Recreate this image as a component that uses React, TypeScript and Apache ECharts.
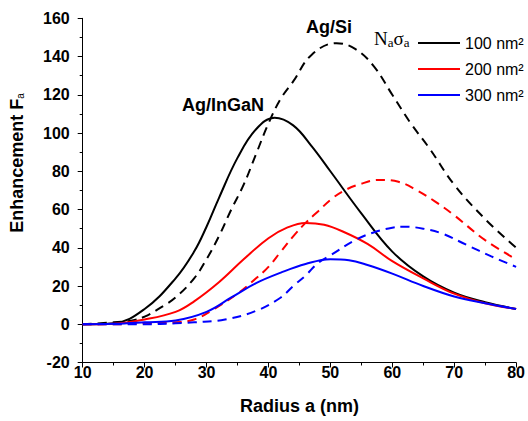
import React, { useEffect, useRef } from "react";
import * as echarts from "echarts";

// Radius a (nm) vs enhancement F_a
const ingan100: [number, number][] = [
  [10, 0], [15, 0.5], [20, 8], [25, 24], [28, 38], [30, 51], [32, 66], [35, 87], [38, 102], [41, 108],
  [44, 104], [47, 93], [50, 80], [55, 58], [60, 38], [65, 25], [70, 16.5], [75, 11.5], [80, 8],
];
const si100: [number, number][] = [
  [10, 0], [15, 1], [18, 2], [20, 4], [23, 9.5], [25, 14], [28, 24], [30, 34], [32, 46], [34, 60],
  [36, 73], [38, 89], [40, 105], [42, 118], [44, 127], [47, 141], [51, 147], [54, 144], [57, 135],
  [60, 120], [63, 105], [66, 92], [70, 73], [75, 55], [80, 40],
];
const ingan200: [number, number][] = [
  [10, 0], [15, 0.3], [20, 2.5], [25, 6.5], [28, 12], [32, 22], [36, 34], [40, 45], [43, 50.5],
  [46, 53], [49, 52], [52, 48.5], [56, 42], [60, 33], [65, 24], [70, 16], [75, 11], [80, 8],
];
const si200: [number, number][] = [
  [10, 0], [15, 0], [20, 0.5], [25, 1], [28, 2.5], [31, 7.5], [35, 16], [38, 24], [40, 30], [42, 38],
  [44, 46], [46, 53], [48, 59], [50, 65], [52, 69.5], [55, 73.5], [58, 75.5], [61, 74.5], [64, 70],
  [67, 64], [70, 57], [75, 44], [80, 34],
];
const ingan300: [number, number][] = [
  [10, 0], [15, 0.2], [20, 1], [25, 2], [30, 6.5], [34, 14], [38, 21.5], [42, 27], [46, 31.5],
  [50, 34], [53, 33.5], [56, 31], [60, 26.5], [65, 20], [70, 14.5], [75, 11], [80, 8],
];
const si300: [number, number][] = [
  [10, 0], [20, 0], [25, 0.5], [28, 1], [33, 2.5], [38, 7], [42, 14], [44, 20], [46, 25.5], [48, 32],
  [50, 36], [54, 44], [57, 48], [60, 50.5], [62, 51], [65, 50], [68, 47.5], [72, 41.5], [76, 35.5],
  [80, 30],
];
const legendNames = ["100 nm²", "200 nm²", "300 nm²"];
const colors = ["#000000", "#ff0000", "#0000ff"];

export default function App() {
  const ref = useRef<HTMLDivElement>(null);
  useEffect(() => {
    if (!ref.current) return;
    const chart = echarts.init(ref.current, undefined, { renderer: "svg" });
    const font = "'Liberation Sans', Arial, sans-serif";
    const solid = (name: string, data: [number, number][], color: string) => ({
      name, type: "line", data, smooth: 0.4, symbol: "none",
      lineStyle: { color, width: 2, type: "solid" }, itemStyle: { color },
    });
    const dashed = (name: string, data: [number, number][], color: string) => ({
      name, type: "line", data, smooth: 0.4, symbol: "none",
      lineStyle: { color, width: 2, type: [9, 6] }, itemStyle: { color },
    });
    chart.setOption({
      animation: false,
      backgroundColor: "#ffffff",
      grid: { left: 82.7, right: 10.7, top: 18.3, bottom: 58.5 },
      legend: {
        data: legendNames, orient: "vertical", left: 418, top: 35, padding: 0,
        icon: "rect", itemWidth: 42, itemHeight: 2, itemGap: 10,
        textStyle: { fontSize: 16, fontFamily: font, color: "#000", lineHeight: 16, width: 62, overflow: "none" },
      },
      xAxis: {
        type: "value", min: 10, max: 80, interval: 10,
        name: "Radius a (nm)", nameLocation: "middle", nameGap: 34,
        nameTextStyle: { fontSize: 18, fontWeight: "bold", fontFamily: font, color: "#000" },
        axisLine: { onZero: false, lineStyle: { color: "#000", width: 1 } },
        axisTick: { length: 5, lineStyle: { color: "#000" } },
        minorTick: { show: true, splitNumber: 2, length: 3, lineStyle: { color: "#000" } },
        axisLabel: { fontSize: 16, fontWeight: "bold", fontFamily: font, color: "#000", margin: 2 },
        splitLine: { show: false },
      },
      yAxis: {
        type: "value", min: -20, max: 160, interval: 20,
        axisLine: { show: true, onZero: false, lineStyle: { color: "#000", width: 1 } },
        axisTick: { show: true, length: 5, lineStyle: { color: "#000" } },
        minorTick: { show: true, splitNumber: 2, length: 3, lineStyle: { color: "#000" } },
        axisLabel: { fontSize: 16, fontWeight: "bold", fontFamily: font, color: "#000", margin: 13 },
        splitLine: { show: false },
      },
      graphic: [
        {
          type: "text", x: 16.5, y: 163, rotation: Math.PI / 2,
          style: {
            text: "Enhancement F{s|a}", fill: "#000", align: "center", verticalAlign: "middle",
            font: `bold 18px ${font}`,
            rich: { s: { fontSize: 10, fontWeight: "normal", fontFamily: font, verticalAlign: "bottom", padding: [8, 0, 0, 0] } },
          },
        },
        {
          type: "text", x: 329, y: 27,
          style: { text: "Ag/Si", fill: "#000", align: "center", verticalAlign: "middle", font: `bold 18px ${font}` },
        },
        {
          type: "text", x: 182, y: 105,
          style: { text: "Ag/InGaN", fill: "#000", align: "left", verticalAlign: "middle", font: `bold 18px ${font}` },
        },
        {
          type: "text", x: 374, y: 38,
          style: {
            text: "N{s|a}σ{s|a}", fill: "#000", align: "left", verticalAlign: "middle",
            font: "19px 'Liberation Serif', 'Times New Roman', serif",
            rich: { s: { fontSize: 13, fontFamily: "'Liberation Serif', serif", verticalAlign: "bottom", padding: [8, 0, 0, 0] } },
          },
        },
      ],
      series: [
        solid(legendNames[0], ingan100, colors[0]),
        dashed("Ag/Si 100", si100, colors[0]),
        solid(legendNames[1], ingan200, colors[1]),
        dashed("Ag/Si 200", si200, colors[1]),
        solid(legendNames[2], ingan300, colors[2]),
        dashed("Ag/Si 300", si300, colors[2]),
      ],
    });
    return () => chart.dispose();
  }, []);
  return (
    <div
      ref={ref}
      style={{ position: "absolute", left: 0, top: 0, width: 528, height: 421, background: "#fff" }}
    />
  );
}
